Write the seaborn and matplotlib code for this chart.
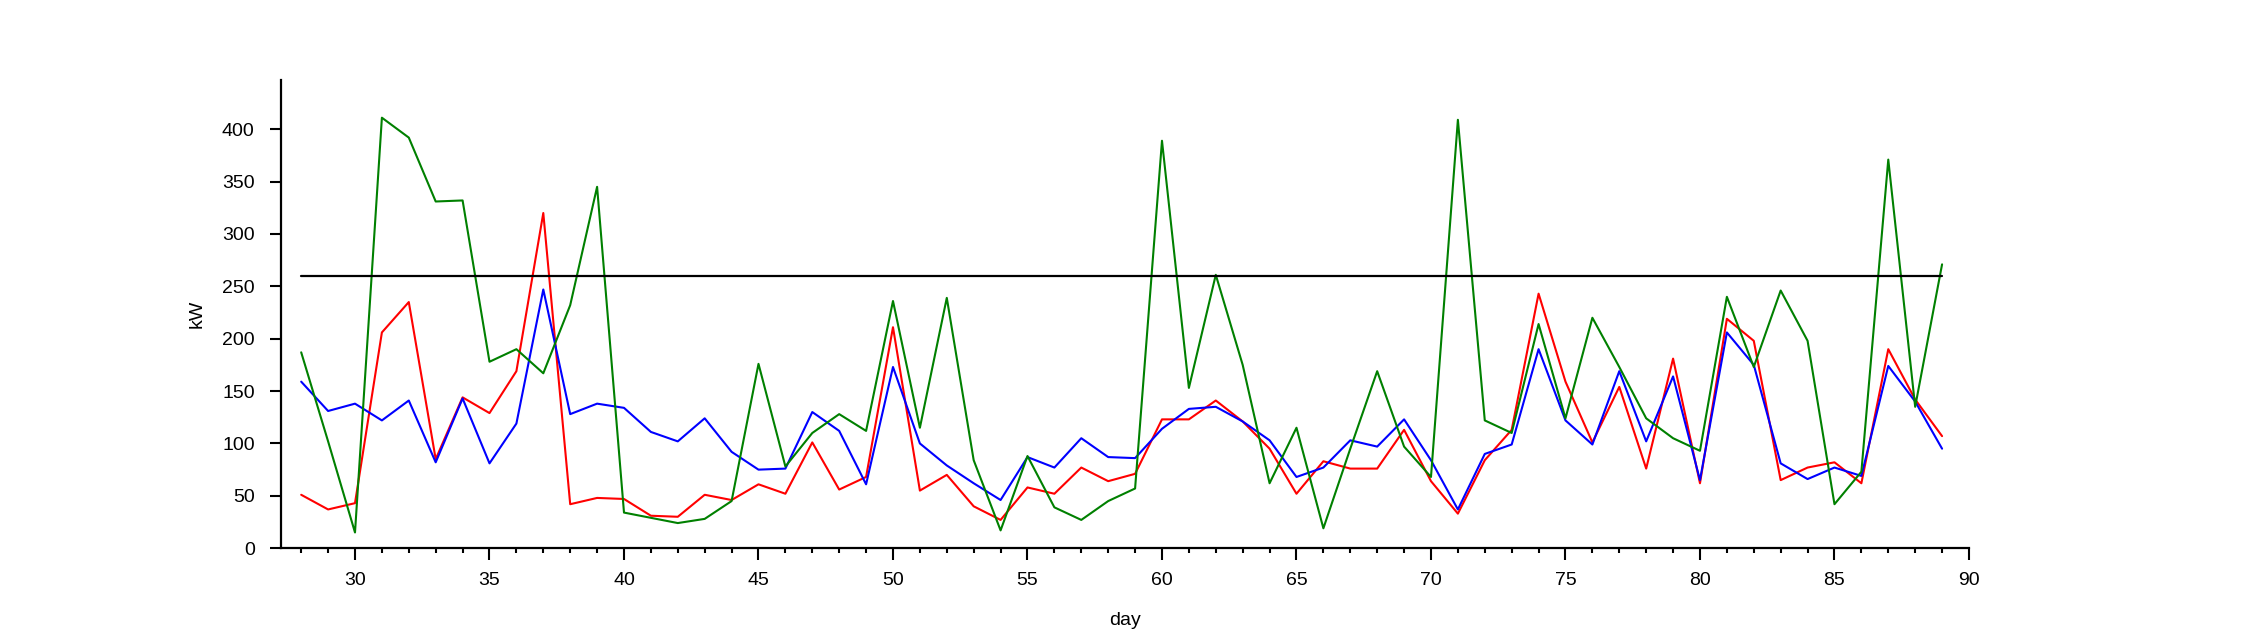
import numpy as np
import pandas as pd
import matplotlib
matplotlib.use("Agg")
import matplotlib.pyplot as plt
import seaborn as sns
from matplotlib.ticker import MultipleLocator

# Data (kW per day)
days = list(range(28, 90))

red_kw = [51, 37, 43, 206, 235, 85, 144, 129, 169, 320,
          42, 48, 47, 31, 30, 51, 46, 61, 52, 101,
          56, 68, 211, 55, 70, 40, 27, 58, 52, 77,
          64, 71, 123, 123, 141, 121, 95, 52, 83, 76,
          76, 113, 64, 33, 84, 113, 243, 159, 101, 154,
          76, 181, 62, 219, 198, 65, 77, 82, 62, 190,
          142, 107]

blue_kw = [159, 131, 138, 122, 141, 82, 143, 81, 119, 247,
           128, 138, 134, 111, 102, 124, 92, 75, 76, 130,
           112, 61, 173, 100, 79, 62, 46, 87, 77, 105,
           87, 86, 114, 133, 135, 121, 103, 68, 77, 103,
           97, 123, 84, 37, 90, 99, 190, 122, 99, 169,
           102, 164, 65, 206, 175, 81, 66, 77, 69, 174,
           140, 95]

green_kw = [187, 102, 15, 411, 392, 331, 332, 178, 190, 167,
            232, 345, 34, 29, 24, 28, 45, 176, 78, 110,
            128, 112, 236, 115, 239, 84, 17, 88, 39, 27,
            45, 57, 389, 153, 261, 175, 62, 115, 19, 95,
            169, 97, 68, 409, 122, 110, 214, 124, 220, 173,
            124, 105, 93, 240, 173, 246, 198, 42, 73, 371,
            135, 271]

limit_days = [28, 89]
limit_kw = [260, 260]

series_names = ["red", "blue", "green"]
colors = {"red": "#ff0000", "blue": "#0000ff", "green": "#008000"}

df = pd.concat([
    pd.DataFrame({"day": days, "kW": red_kw, "series": "red"}),
    pd.DataFrame({"day": days, "kW": blue_kw, "series": "blue"}),
    pd.DataFrame({"day": days, "kW": green_kw, "series": "green"}),
], ignore_index=True)

sns.set_style("ticks")
plt.rcParams["font.family"] = ["Liberation Sans", "DejaVu Sans"]
plt.rcParams["text.color"] = "black"
plt.rcParams["axes.labelcolor"] = "black"

fig = plt.figure(figsize=(22.5, 6.42), dpi=100)
ax = fig.add_axes([0.1249, 0.1461, 0.7502, 0.7293])

sns.lineplot(data=df, x="day", y="kW", hue="series", hue_order=series_names,
             palette=colors, linewidth=1.5, legend=False, ax=ax)
sns.lineplot(x=limit_days, y=limit_kw, color="black", linewidth=1.6, ax=ax)

ax.set_xlim(27.25, 90)
ax.set_ylim(0, 447)
ax.xaxis.set_major_locator(MultipleLocator(5))
ax.xaxis.set_minor_locator(MultipleLocator(1))
ax.yaxis.set_major_locator(MultipleLocator(50))

ax.tick_params(axis="x", which="major", length=8.5, width=1.5, pad=8.5, labelsize=14,
               colors="black", labelcolor="black")
ax.tick_params(axis="x", which="minor", length=3.6, width=1.5, colors="black")
ax.tick_params(axis="y", which="major", length=8, width=1.5, pad=11, labelsize=14,
               colors="black", labelcolor="black")

sns.despine(ax=ax)
for side in ["left", "bottom"]:
    ax.spines[side].set_linewidth(1.6)
    ax.spines[side].set_color("black")

ax.set_xlabel("day", fontsize=14, labelpad=17)
ax.set_ylabel("kW", fontsize=14, labelpad=12)

fig.savefig("out.png", dpi=100)
